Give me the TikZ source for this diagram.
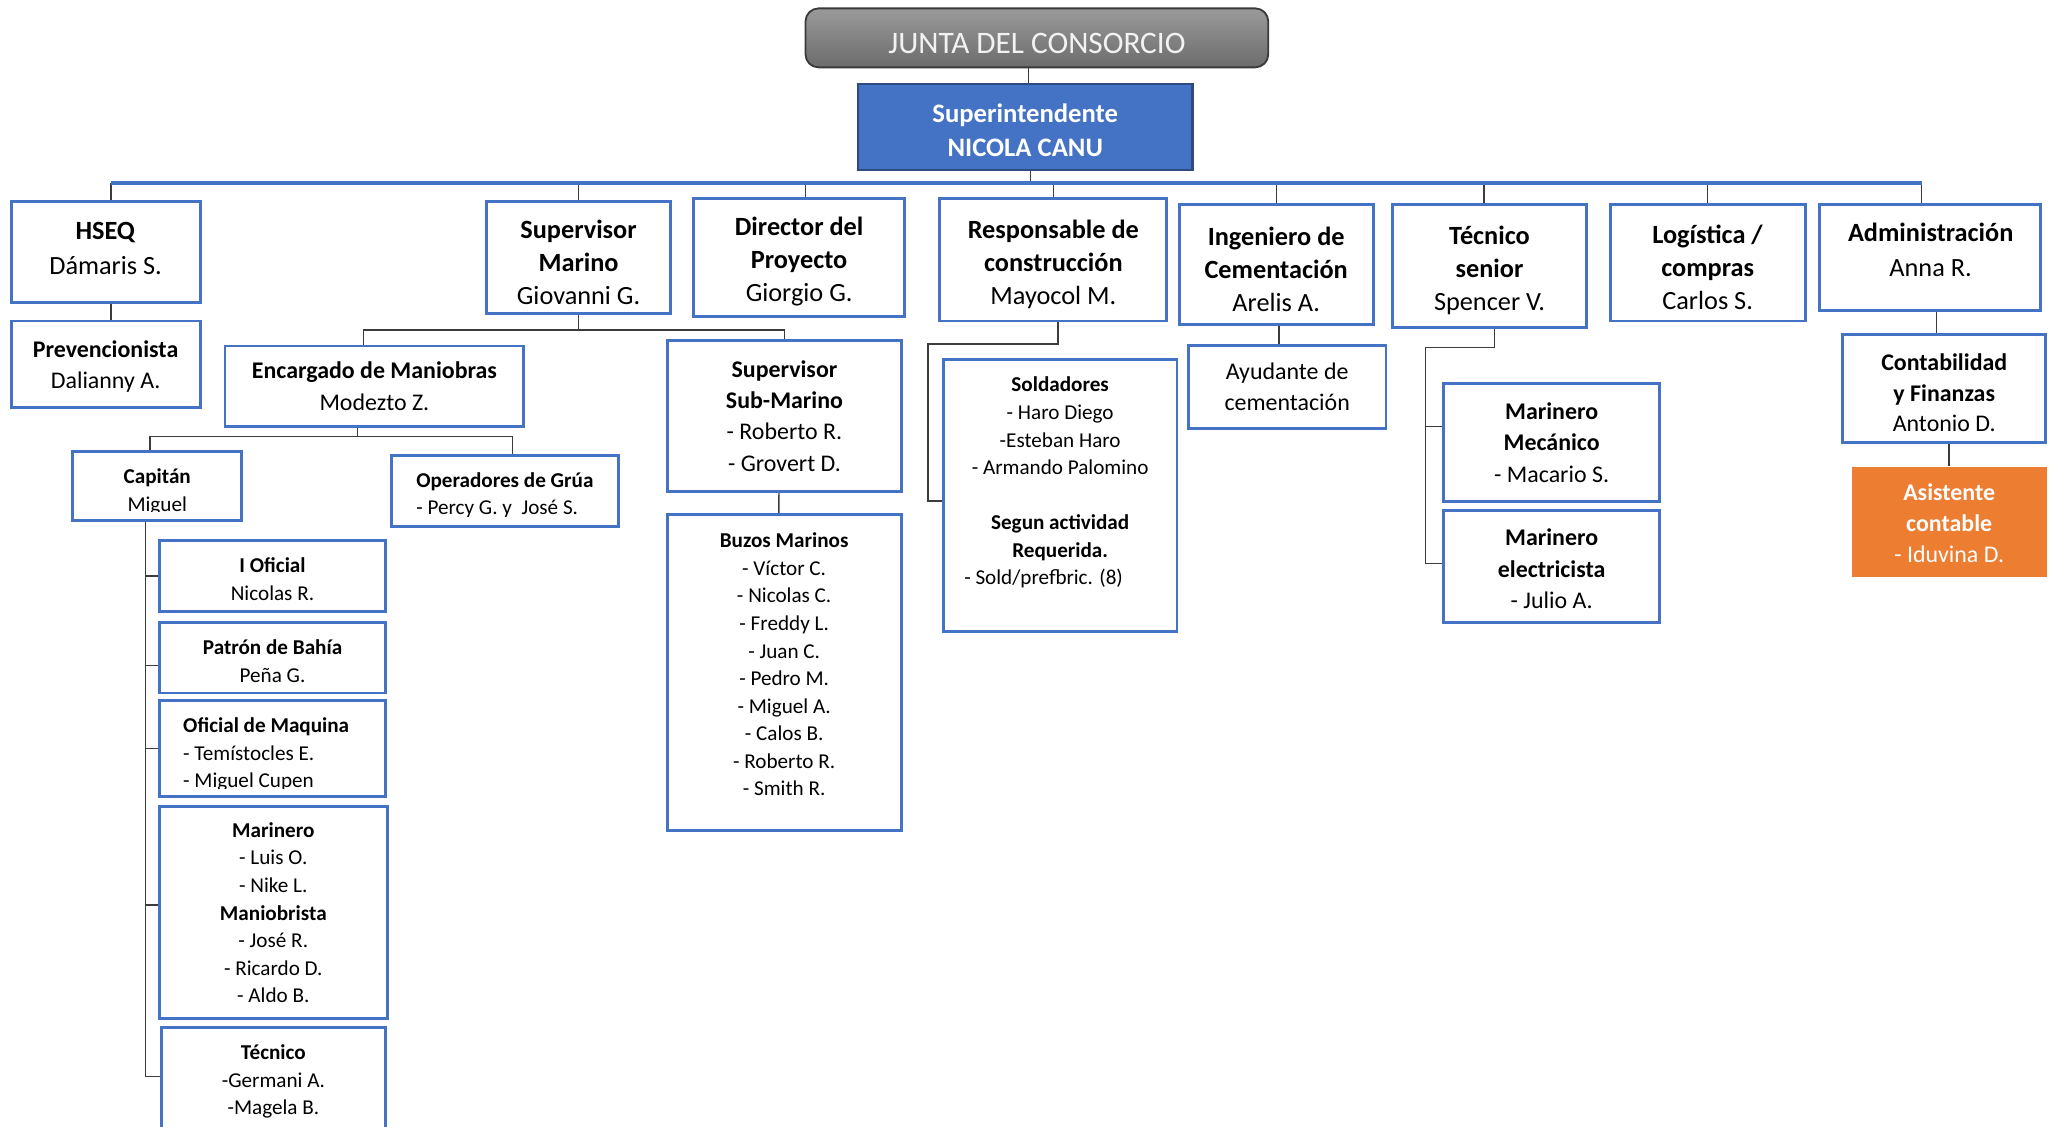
\documentclass[tikz,border=0pt]{standalone}
\usepackage{fontspec}
\setmainfont{Carlito}
\definecolor{boxblue}{HTML}{4472C4}
\definecolor{supborder}{HTML}{2F4A80}
\definecolor{asorange}{HTML}{ED7D31}
\definecolor{linegray}{HTML}{3C3C3C}
\definecolor{juntaborder}{HTML}{3A3A3A}
\definecolor{juntatop}{HTML}{9A9A9A}
\definecolor{juntabot}{HTML}{6C6C6C}
\definecolor{juntatext}{HTML}{F2F2F2}
\newcommand{\orgbox}[6]{\node[#1, minimum width={(#5-#3)*0.025cm}, minimum height={(#6-#4)*0.025cm}] (#2) at ({(#3+#5)/2},{(#4+#6)/2})}
\newcommand{\upstrut}[1]{\rule{0pt}{#1}}
\tikzset{
  box/.style={draw=boxblue, line width=1.6pt, fill=white, inner sep=0pt, align=center, text=black},
  fbig/.style={font=\fontsize{14.3}{18}\selectfont},
  fbigw/.style={font=\fontsize{14.3}{19.5}\selectfont},
  fmid/.style={font=\fontsize{13}{17}\selectfont},
  fsmall/.style={font=\fontsize{11.5}{15}\selectfont},
  lbl/.style={inner sep=0pt, align=center, text=black},
  conn/.style={draw=linegray, line width=0.75pt},
  bus/.style={draw=boxblue, line width=2.2pt},
  juntabox/.style={draw=juntaborder, line width=1pt, rounded corners=0.25cm, top color=juntatop, bottom color=juntabot, inner sep=0pt, text=juntatext, text height=16.6pt, text depth=0pt, font=\fontsize{17}{20}\selectfont},
  superbox/.style={fill=boxblue, draw=supborder, line width=1.5pt, inner sep=0pt, align=center, text=white, font=\fontsize{14.5}{18.5}\selectfont\bfseries},
  asistbox/.style={fill=asorange, draw=none, inner sep=0pt, align=center, text=white}
}
\begin{document}
\begin{tikzpicture}[x=0.025cm, y=-0.025cm]
\useasboundingbox (0,0) rectangle (1568,861);
\clip (0,0) rectangle (1568,861);

% top
\orgbox{juntabox}{junta}{615.8}{6.4}{969.6}{51.5} {JUNTA DEL CONSORCIO};
\orgbox{superbox}{super}{656}{64.2}{911.6}{130} {\upstrut{13.5pt}Superintendente\\NICOLA CANU};

% first row
\orgbox{box,fbigw}{hseq}{8.5}{154.2}{153}{231.2} {\textbf{HSEQ}\\Dámaris S.\rule[-4pt]{0pt}{0pt}};
\orgbox{box,fbig}{supmar}{372}{154.2}{512.6}{240} {\upstrut{15pt}\textbf{Supervisor}\\\textbf{Marino}\\Giovanni G.};
\orgbox{box,fbig}{dir}{530.4}{152.1}{691.5}{242} {\upstrut{14pt}\textbf{Director del}\\\textbf{Proyecto}\\Giorgio G.};
\orgbox{box,fbig}{resp}{718.6}{152.1}{892}{245.4} {\upstrut{15pt}\textbf{Responsable de}\\\textbf{construcción}\\Mayocol M.};
\orgbox{box,fbig}{ing}{901.5}{156.7}{1049.8}{248} {\upstrut{15pt}\textbf{Ingeniero de}\\\textbf{Cementación}\\Arelis A.};
\orgbox{box,fbig}{tsen}{1064.5}{156.7}{1213}{250.2} {\upstrut{15pt}\textbf{Técnico}\\\textbf{senior}\\Spencer V.};
\orgbox{box,fbig}{log}{1231}{156}{1380}{245.4} {\upstrut{15pt}\textbf{Logística /}\\\textbf{compras}\\Carlos S.};
\orgbox{box,fbig}{admin}{1391}{156}{1559.7}{237.5} {};
\node[lbl,fbigw] (adminT) at (1476,191) {\textbf{Administración}\\Anna R.};

% second level
\orgbox{box,fmid}{prev}{8.5}{245.4}{153}{311.4} {\upstrut{12pt}\textbf{Prevencionista}\\Dalianny A.};
\orgbox{box,fmid}{encm}{172}{264.5}{400.5}{326.2} {\textbf{Encargado de Maniobras}\\Modezto Z.};
\orgbox{box,fmid}{subm}{510.5}{260}{689}{375.9} {\textbf{Supervisor}\\\textbf{Sub-Marino}\\- Roberto R.\\- Grovert D.};
\orgbox{box,fmid,font=\fontsize{13}{16.5}\selectfont}{ayu}{908.5}{263.8}{1059.6}{327.5} {Ayudante de\\cementación};
\orgbox{box,fmid}{mmec}{1103.5}{293}{1269}{383.5} {\textbf{Marinero}\\\textbf{Mecánico}\\- Macario S.};
\orgbox{box,fmid}{melec}{1103.5}{390.4}{1269}{476} {\upstrut{11.5pt}\textbf{Marinero}\\\textbf{electricista}\\- Julio A.};
\orgbox{box,fmid,font=\fontsize{13}{16.7}\selectfont}{conta}{1408.7}{255.6}{1564}{338.2} {\upstrut{14pt}\textbf{Contabilidad}\\\textbf{y Finanzas}\\Antonio D.};
\orgbox{asistbox,font=\fontsize{13}{16.7}\selectfont}{asist}{1415.6}{356.8}{1564.7}{441.4} {\upstrut{10.5pt}\textbf{Asistente}\\\textbf{contable}\\- Iduvina D.};

% Soldadores
\orgbox{box}{sold}{721.2}{274.9}{899.8}{483} {};
\node[lbl,fsmall] (soldT) at (810.5,369) {\textbf{Soldadores}\\- Haro Diego\\-Esteban Haro\\- Armando Palomino\\[15pt]\textbf{Segun actividad}\\\textbf{Requerida.}\\\hspace*{-18pt}- Sold/prefbric. (8)};

% Buzos
\orgbox{box}{buzos}{510.3}{393.2}{689}{634.6} {};
\node[lbl,fsmall] (buzosT) at (599.5,508) {\textbf{Buzos Marinos}\\- Víctor C.\\- Nicolas C.\\- Freddy L.\\- Juan C.\\- Pedro M.\\- Miguel A.\\- Calos B.\\- Roberto R.\\- Smith R.};

% Capitan and Operadores (clipped text)
\orgbox{box}{cap}{55.6}{345.3}{184.8}{398} {};
\begin{scope}
\clip (55.6,345.3) rectangle (184.8,391.4);
\node[lbl,fsmall] (capT) at (120.2,376) {\textbf{Capitán}\\Miguel};
\end{scope}
\orgbox{box}{oper}{299.5}{347.9}{472.6}{402.7} {};
\begin{scope}
\clip (299.5,347.9) rectangle (472.6,395);
\node[lbl,fsmall,align=left] (operT) at (386,378.5) {\textbf{Operadores de Grúa}\\- Percy G. y\ \ José S.};
\end{scope}

% Capitan subtree
\orgbox{box,fsmall}{ioff}{121.8}{413.4}{294.9}{467.4} {\upstrut{11.5pt}\textbf{I Oficial}\\Nicolas R.};
\orgbox{box,fsmall}{patron}{121.8}{476}{294.9}{529.8} {\upstrut{11.5pt}\textbf{Patrón de Bahía}\\Peña G.};
\orgbox{box}{ofmaq}{121.8}{535.6}{294.9}{609} {};
\begin{scope}
\clip (121.8,535.6) rectangle (294.9,603);
\node[lbl,fsmall,align=left] (ofmaqT) at (203.5,577) {\textbf{Oficial de Maquina}\\- Temístocles E.\\- Miguel Cupen};
\end{scope}
\orgbox{box,fsmall}{mari}{121.8}{616.6}{296.1}{779} {\textbf{Marinero}\\- Luis O.\\- Nike L.\\\textbf{Maniobrista}\\- José R.\\- Ricardo D.\\- Aldo B.};
\orgbox{box}{tec}{123.6}{785.5}{294.9}{900} {};
\node[lbl,fsmall] (tecT) at (209,827) {\textbf{Técnico}\\-Germani A.\\-Magela B.};

% connectors
\coordinate (busL) at (84.6,140.2);
\coordinate (busR) at (1469,140.2);
\draw[conn] ([xshift=0.065cm]super.north) -- ([xshift=0.065cm]super.north |- junta.south);
\draw[conn] ([xshift=0.1cm]super.south) -- ([xshift=0.1cm]super.south |- busL);
\draw[conn] ([xshift=0.106cm]hseq.north) -- ([xshift=0.106cm]hseq.north |- busL);
\draw[conn] (supmar.north) -- (supmar.north |- busL);
\draw[conn] ([xshift=0.12cm]dir.north) -- ([xshift=0.12cm]dir.north |- busL);
\draw[conn] (resp.north) -- (resp.north |- busL);
\draw[conn] (ing.north) -- (ing.north |- busL);
\draw[conn] ([xshift=-0.104cm]tsen.north) -- ([xshift=-0.104cm]tsen.north |- busL);
\draw[conn] (log.north) -- (log.north |- busL);
\draw[conn] ([xshift=-0.16cm]admin.north) -- ([xshift=-0.16cm]admin.north |- busL);
\draw[bus] (busL) -- (busR);

% HSEQ
\draw[conn] ([xshift=0.1cm]hseq.south) -- ([xshift=0.1cm]prev.north);

% Supervisor Marino
\coordinate (smH) at (442,252.3);
\draw[conn] (supmar.south) -- (supmar.south |- smH);
\draw[conn] ([xshift=-0.21cm]encm.north) |- (subm.north |- smH) -- (subm.north);

% Encargado
\coordinate (emH) at (273,333.5);
\draw[conn] ([xshift=-0.325cm]encm.south) -- ([xshift=-0.325cm]encm.south |- emH);
\draw[conn] ([xshift=-0.14cm]cap.north) |- ([xshift=0.14cm]oper.north |- emH) -- ([xshift=0.14cm]oper.north);

% Capitan tree
\coordinate (capL) at ([xshift=-0.23cm]cap.south);
\coordinate (tecT) at ([yshift=-0.97cm]tec.north west);
\draw[conn] (capL) |- (tecT);
\draw[conn] (ioff.west) -- (ioff.west -| capL);
\draw[conn] ([yshift=-0.15cm]patron.west) -- ([yshift=-0.15cm]patron.west -| capL);
\draw[conn] (ofmaq.west) -- (ofmaq.west -| capL);
\draw[conn] ([yshift=0.145cm]mari.west) -- ([yshift=0.145cm]mari.west -| capL);

% Sub-Marino -> Buzos
\draw[conn] ([xshift=-0.106cm]subm.south) -- ([xshift=-0.106cm]buzos.north);

% Responsable -> Soldadores
\coordinate (solC) at (709.5,263);
\draw[conn] ([xshift=0.09cm]resp.south) |- (solC) |- ([yshift=-0.1cm]sold.west);

% Ingeniero -> Ayudante
\draw[conn] ([xshift=0.05cm]ing.south) -- ([xshift=0.05cm]ing.south |- ayu.north);

% Tecnico senior -> Marineros
\coordinate (tsC) at (1089.8,265.8);
\draw[conn] ([xshift=0.09cm]tsen.south) |- (tsC) |- ([yshift=0.06cm]melec.west);
\draw[conn] ([yshift=0.31cm]mmec.west) -- ([yshift=0.31cm]mmec.west -| tsC);

% Administracion
\draw[conn] ([xshift=0.13cm]admin.south) -- ([xshift=0.13cm]admin.south |- conta.north);
\draw[conn] (asist.north) -- (asist.north |- conta.south);
\end{tikzpicture}
\end{document}
